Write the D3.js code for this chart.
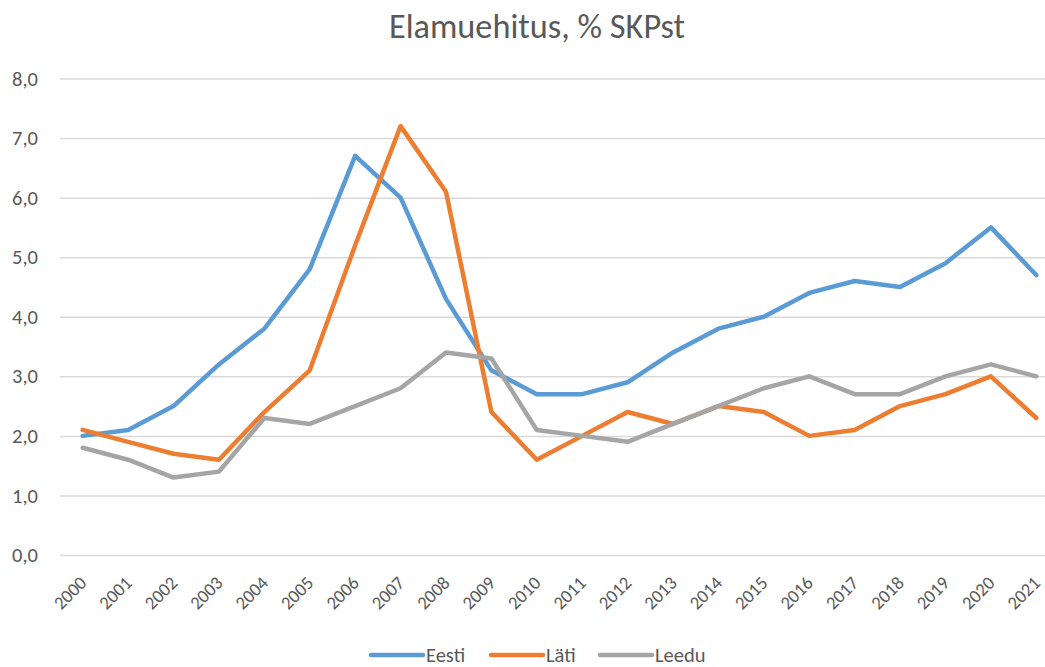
<!DOCTYPE html>
<html>
<head>
<meta charset="utf-8">
<script src="https://cdn.jsdelivr.net/npm/d3@7"></script>
<style>
  body { margin: 0; background: #fff; }
  svg { display: block; font-family: Carlito, Calibri, "Liberation Sans Narrow", "Open Sans", sans-serif; }
</style>
</head>
<body>
<svg id="chart" width="1045" height="667"></svg>
<script>
/* eslint-disable no-undef */
// data
let years = ['2000', '2001', '2002', '2003', '2004', '2005', '2006', '2007', '2008', '2009', '2010',
    '2011', '2012', '2013', '2014', '2015', '2016', '2017', '2018', '2019', '2020', '2021']
let eesti = [2.0, 2.1, 2.5, 3.2, 3.8, 4.8, 6.7, 6.0, 4.3, 3.1, 2.7, 2.7, 2.9, 3.4, 3.8, 4.0, 4.4, 4.6, 4.5, 4.9, 5.5, 4.7]
let lati = [2.1, 1.9, 1.7, 1.6, 2.4, 3.1, 5.2, 7.2, 6.1, 2.4, 1.6, 2.0, 2.4, 2.2, 2.5, 2.4, 2.0, 2.1, 2.5, 2.7, 3.0, 2.3]
let leedu = [1.8, 1.6, 1.3, 1.4, 2.3, 2.2, 2.5, 2.8, 3.4, 3.3, 2.1, 2.0, 1.9, 2.2, 2.5, 2.8, 3.0, 2.7, 2.7, 3.0, 3.2, 3.0]
let yTicks = [0, 1, 2, 3, 4, 5, 6, 7, 8]
let seriesNames = ['Eesti', 'Läti', 'Leedu']
let seriesColors = ['#5B9BD5', '#ED7D31', '#A5A5A5']

let series = [eesti, lati, leedu].map((vals, i) => {
    return { name: seriesNames[i], color: seriesColors[i], values: vals }
})

let svg = d3.select('#chart')
let textColor = '#595959'

// plot area, the right edge runs past the window like in the original
let x = d3.scaleBand().domain(years).range([60, 1059])
let y = d3.scaleLinear().domain([0, 8]).range([555, 78.5])
let xc = (d) => x(d) + x.bandwidth() / 2

svg.append('text')
    .attr('x', 537).attr('y', 38)
    .attr('text-anchor', 'middle')
    .attr('font-size', 34.3)
    .attr('fill', textColor)
    .text('Elamuehitus, % SKPst')

// gridlines + y labels
let yAxis = d3.axisLeft(y)
    .tickValues(yTicks)
    .tickSize(-(1059 - 60))
    .tickPadding(22)
    .tickFormat((d) => d3.format('.1f')(d).replace('.', ','))

svg.append('g')
    .attr('transform', 'translate(60,0)')
    .call(yAxis)
    .attr('font-family', null) // axis puts sans-serif on the group, drop it
    .call((g) => g.select('.domain').remove())
    .call((g) => g.selectAll('.tick line').attr('stroke', '#D9D9D9').attr('stroke-width', 1.5))
    .call((g) => g.selectAll('.tick text')
        .attr('fill', textColor).attr('font-size', 20.5))

// x labels, turned 45deg
let xAxis = d3.axisBottom(x).tickSize(0).tickPadding(0)
svg.append('g')
    .attr('transform', 'translate(0,555)')
    .call(xAxis)
    .attr('font-family', null)
    .call((g) => g.select('.domain').remove())
    .call((g) => g.selectAll('.tick text')
        .attr('fill', textColor)
        .attr('font-size', 18.5)
        .attr('text-anchor', 'end')
        .attr('dy', null)
        .attr('transform', 'translate(5,29) rotate(-45)'))

let line = d3.line()
    .x((d, i) => xc(years[i]))
    .y((d) => y(d))

svg.append('g').selectAll('path')
    .data(series)
    .enter().append('path')
    .attr('d', (d) => line(d.values))
    .attr('fill', 'none')
    .attr('stroke', (d) => d.color)
    .attr('stroke-width', 4.5)
    .attr('stroke-linejoin', 'round')
    .attr('stroke-linecap', 'round')

// legend at the bottom
let legendX = [371, 491, 600]
let lg = svg.append('g').selectAll('g')
    .data(series)
    .enter().append('g')
    .attr('transform', (d, i) => 'translate(' + legendX[i] + ',655)')

lg.append('line')
    .attr('x1', 0).attr('x2', 52)
    .attr('stroke', (d) => d.color)
    .attr('stroke-width', 4.5)
    .attr('stroke-linecap', 'round')

lg.append('text')
    .attr('x', 55).attr('y', 6.5)
    .attr('font-size', 20.5)
    .attr('fill', textColor)
    .text((d) => d.name)
</script>
</body>
</html>
